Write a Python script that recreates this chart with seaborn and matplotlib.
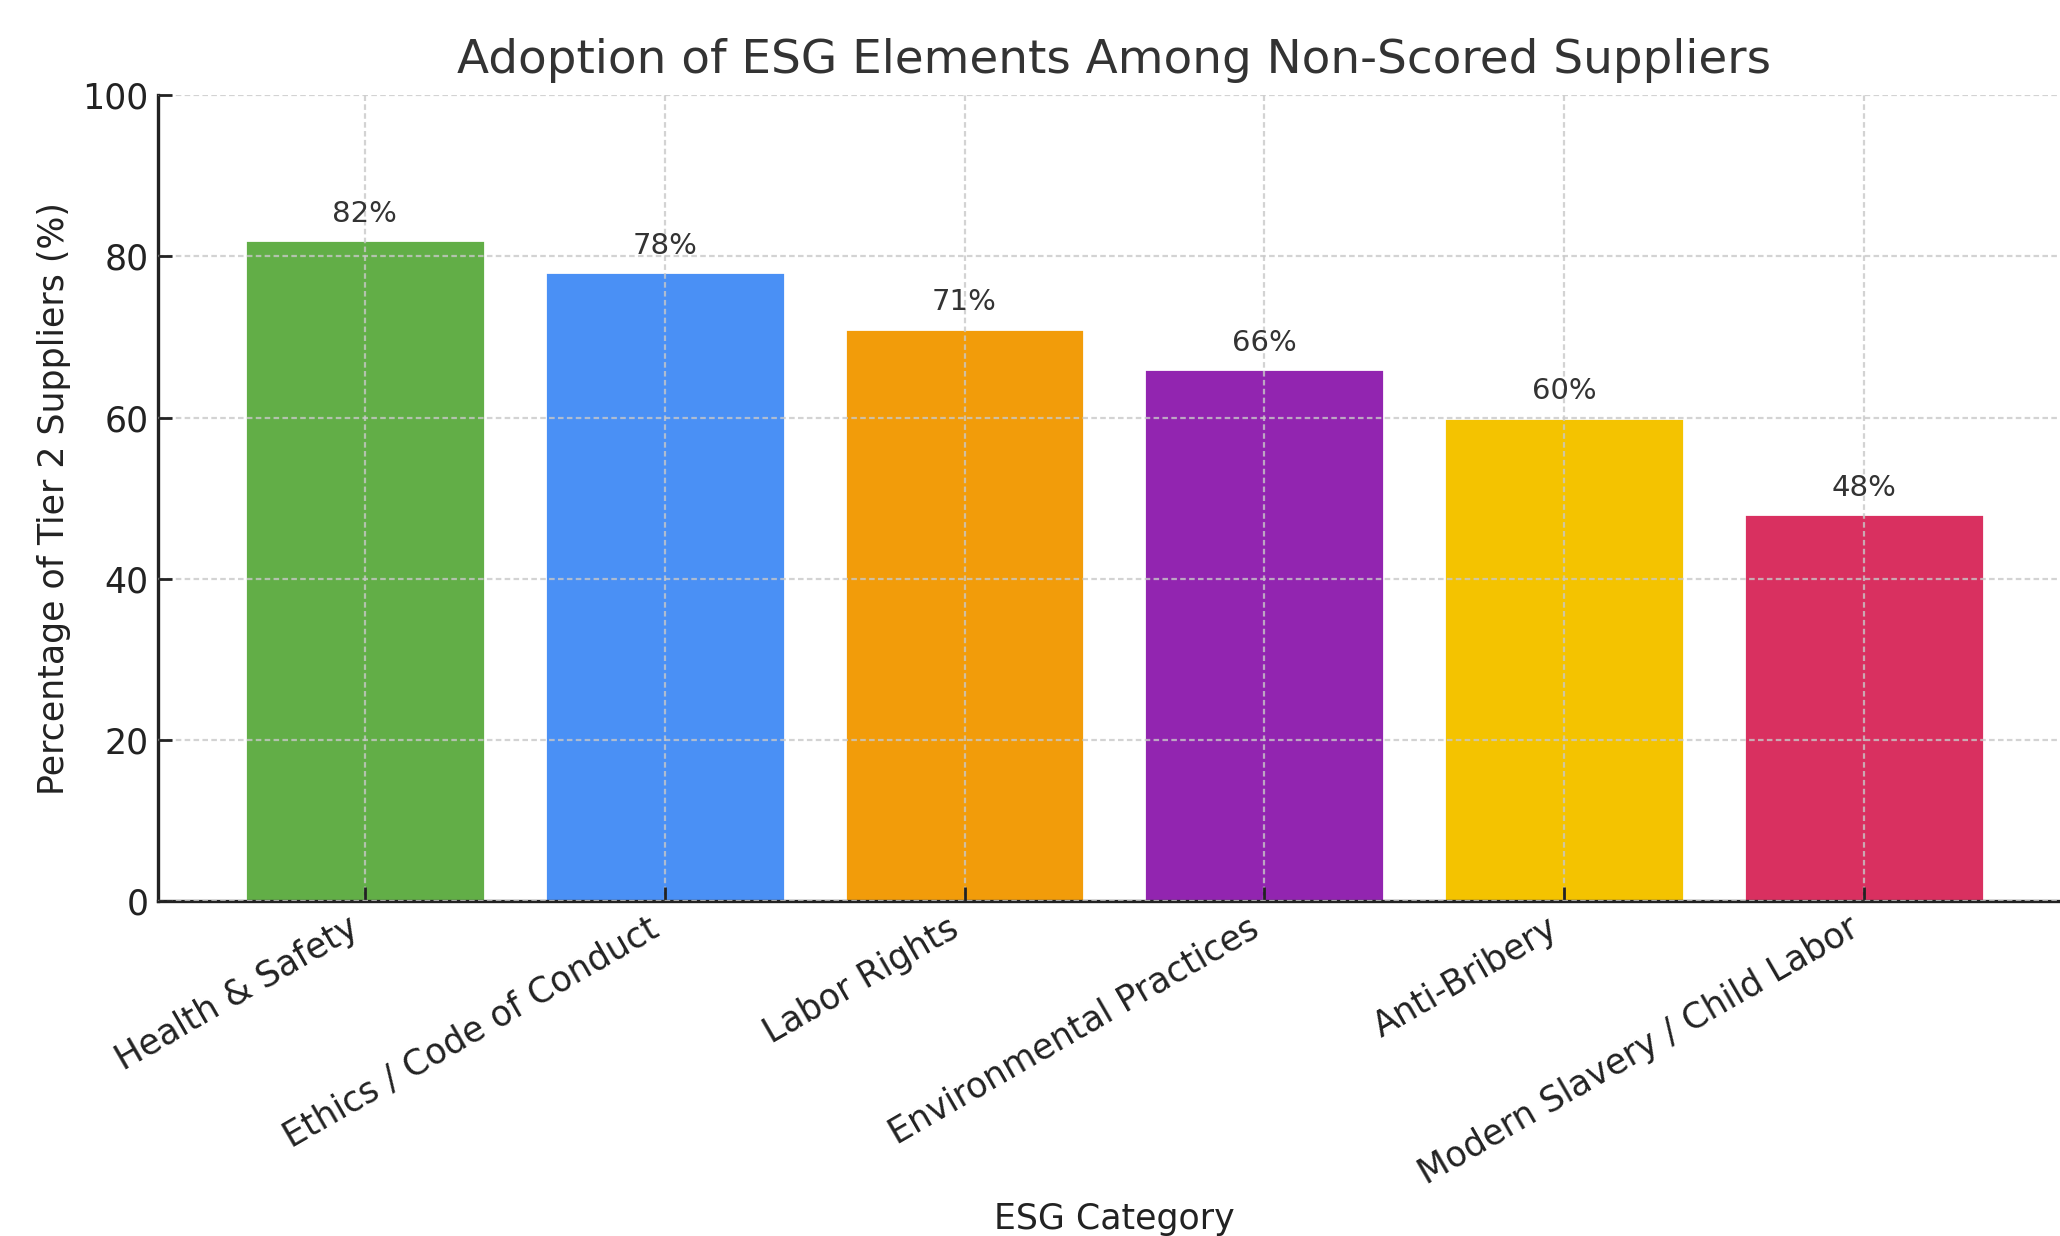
import matplotlib
matplotlib.use("Agg")
import matplotlib.pyplot as plt
import seaborn as sns
import pandas as pd

categories = ["Health & Safety", "Ethics / Code of Conduct", "Labor Rights",
              "Environmental Practices", "Anti-Bribery", "Modern Slavery / Child Labor"]
adoption_pct = [82, 78, 71, 66, 60, 48]
bar_colors = ["#62ae47", "#4a90f5", "#f29c0a", "#9225b0", "#f4c300", "#d93060"]

df = pd.DataFrame({"ESG Category": categories, "Percentage": adoption_pct})

sns.set_theme(style="ticks")
plt.rcParams["font.family"] = ["DejaVu Sans"]

fig = plt.figure(figsize=(10.3, 6.18), dpi=200)
# axes runs slightly past the right edge, like the cropped reference
ax = fig.add_axes([0.0767, 0.271, 0.9286, 0.652])

sns.barplot(data=df, x="ESG Category", y="Percentage", hue="ESG Category",
            palette=bar_colors, width=0.8, saturation=1, legend=False, ax=ax)

for cont in ax.containers:
    ax.bar_label(cont, fmt="{:.0f}%", padding=4.5, fontsize=10.5, color="#333333")

ax.set_xlim(-0.69, 5.69)
ax.set_ylim(0, 100)
ax.set_yticks([0, 20, 40, 60, 80, 100])

ax.grid(True, linestyle=(0, (2.5, 1.5)), color="#c8c8c8", linewidth=0.8, alpha=0.8)
ax.set_axisbelow(False)

ax.spines["top"].set_visible(False)
ax.spines["right"].set_visible(False)
for s in ["left", "bottom"]:
    ax.spines[s].set_color("#222222")
    ax.spines[s].set_linewidth(1.2)
ax.tick_params(direction="in", length=5, width=1, colors="#222222", labelsize=12.5)
plt.setp(ax.get_xticklabels(), rotation=30, ha="right")

ax.set_title("Adoption of ESG Elements Among Non-Scored Suppliers", fontsize=16.9,
             color="#333333", pad=8)
ax.set_xlabel("ESG Category", fontsize=12.5, color="#222222")
ax.set_ylabel("Percentage of Tier 2 Suppliers (%)", fontsize=12.5, color="#222222")

fig.savefig("out.png", dpi=200)
